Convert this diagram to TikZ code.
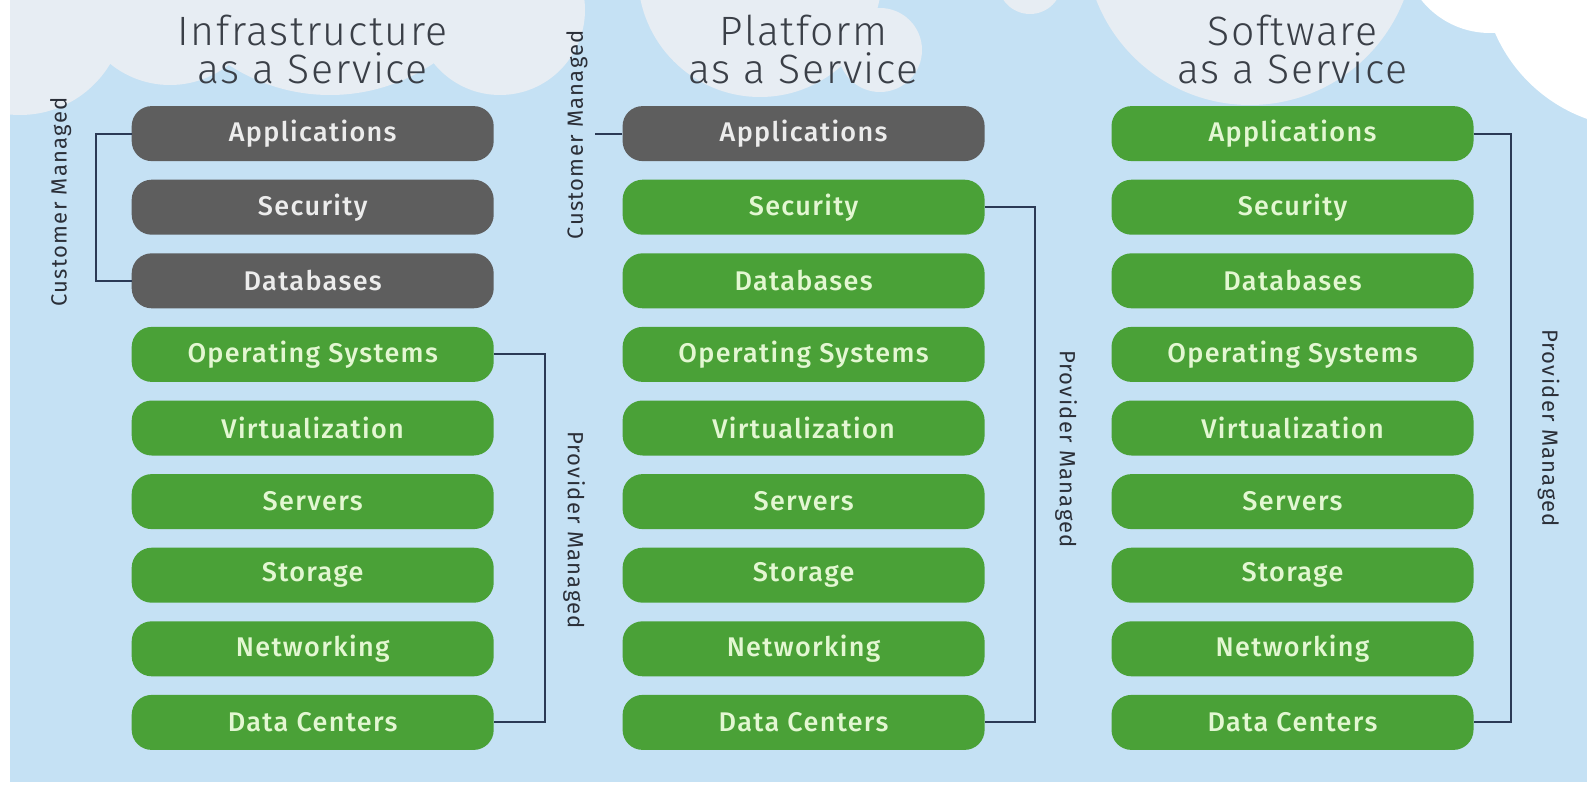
\documentclass[tikz,border=0pt]{standalone}
\usepackage{fontspec}
\setmainfont{Fira Sans}
\newfontfamily\titlefont[LetterSpace=4]{Fira Sans Light}
\newfontfamily\boxfont[LetterSpace=5]{Fira Sans Medium}
\newfontfamily\labelfont[LetterSpace=6]{Fira Sans}
\definecolor{sky}{HTML}{C5E1F4}
\definecolor{cloud}{HTML}{E7EDF3}
\definecolor{boxgreen}{HTML}{4AA137}
\definecolor{boxgrey}{HTML}{5E5E5E}
\definecolor{greentext}{HTML}{E3F7D2}
\definecolor{greytext}{HTML}{ECECEC}
\definecolor{linecol}{HTML}{2B3A55}
\definecolor{titlecol}{HTML}{3A3F47}
\definecolor{labelcol}{HTML}{2B2F38}
\tikzset{
  stackbox/.style={rounded corners=20pt, minimum width=362pt, minimum height=55pt, inner sep=0pt,
    font=\boxfont\fontsize{27}{29}\selectfont},
  greenbox/.style={stackbox, fill=boxgreen, text=greentext},
  greybox/.style={stackbox, fill=boxgrey, text=greytext},
  bracket/.style={draw=linecol, line width=2pt},
  sidelabel/.style={font=\labelfont\fontsize{22}{24}\selectfont, text=labelcol, inner sep=0pt},
  coltitle/.style={font=\titlefont\fontsize{41}{38.5}\selectfont, text=titlecol, align=center, inner sep=0pt}
}
\begin{document}
\begin{tikzpicture}[x=1pt,y=-1pt]
\useasboundingbox (0,0) rectangle (1587,787);
\fill[white] (0,0) rectangle (1587,787);
\fill[sky] (10,0) rectangle (1587,782);
\begin{scope}
  \clip (10,0) rectangle (1587,782);
  \fill[cloud] (20,10) circle (105);
  \fill[cloud] (170,-10) circle (95);
  \fill[cloud] (330,-90) circle (185);
  \fill[cloud] (500,10) circle (85);
  \fill[cloud] (760,-25) circle (122);
  \fill[cloud] (880,50) circle (42);
  \fill[cloud] (1030,-18) circle (32);
  \fill[cloud] (1250,-60) circle (165);
  \fill[white] (1490,-55) circle (88);
  \fill[white] (1640,-30) circle (158);
\end{scope}
% titles
\node[coltitle] (t1) at (312.7,49.6) {Infrastructure\\as a Service};
\node[coltitle] (t2) at (803.6,49.6) {Platform\\as a Service};
\node[coltitle] (t3) at (1292.5,49.6) {Software\\as a Service};
% boxes
\foreach \t [count=\i] in {Applications,Security,Databases,Operating Systems,Virtualization,Servers,Storage,Networking,Data Centers} {
  \pgfmathsetmacro\yy{133.6+(\i-1)*73.6}
  \ifnum\i<4 \tikzset{rsi/.style={greybox}}\else\tikzset{rsi/.style={greenbox}}\fi
  \ifnum\i<2 \tikzset{rsp/.style={greybox}}\else\tikzset{rsp/.style={greenbox}}\fi
  \node[rsi] (i\i) at (312.7,\yy) {\t};
  \node[rsp] (p\i) at (803.6,\yy) {\t};
  \node[greenbox] (s\i) at (1292.5,\yy) {\t};
}
% brackets
\coordinate (pc) at (595,133.6);
\draw[bracket] (i1.west) -- ++(-35.6,0) |- (i3.west);
\draw[bracket] (p1.west) -- (pc);
\draw[bracket] (i4.east) -- ++(50.6,0) |- (i9.east);
\draw[bracket] (p2.east) -- ++(50.2,0) |- (p9.east);
\draw[bracket] (s1.east) -- ++(37.3,0) |- (s9.east);
% side labels
\node[sidelabel, rotate=90] (cm1) at (60.7,202) {Customer Managed};
\node[sidelabel, rotate=90] (cm2) at (577,134.6) {Customer Managed};
\node[sidelabel, rotate=-90] (pm1) at (574,530) {Provider Managed};
\node[sidelabel, rotate=-90] (pm2) at (1066,449) {Provider Managed};
\node[sidelabel, rotate=-90] (pm3) at (1548.5,428) {Provider Managed};
\end{tikzpicture}
\end{document}
